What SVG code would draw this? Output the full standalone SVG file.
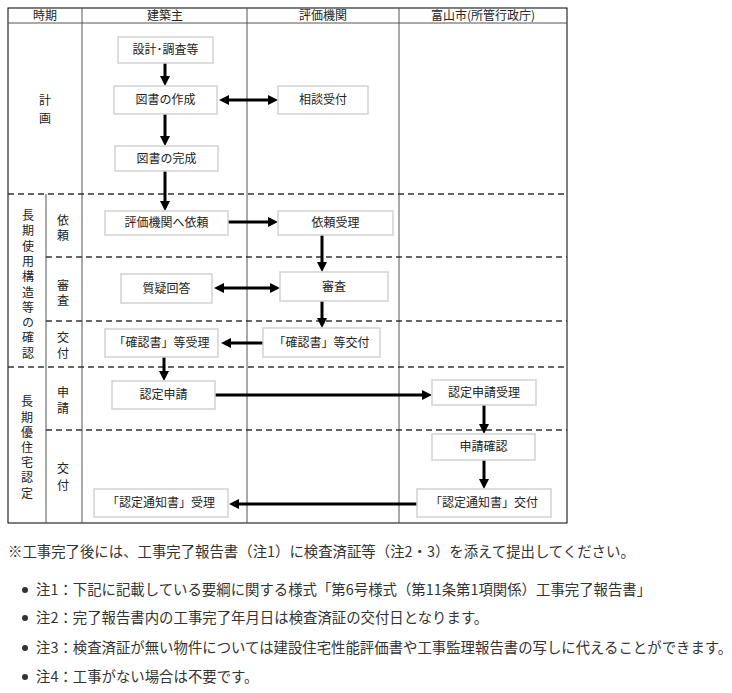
<svg xmlns="http://www.w3.org/2000/svg" width="732" height="693" viewBox="0 0 732 693">
<style>
  .t{font-family:"Noto Sans CJK JP","Noto Sans CJK SC",sans-serif;font-size:12px;fill:#222;text-anchor:middle}
  .v{font-family:"Noto Sans CJK JP","Noto Sans CJK SC",sans-serif;font-size:12px;fill:#222;text-anchor:middle;writing-mode:vertical-rl}
  .box{fill:#fff;stroke:#d2d2d2;stroke-width:1.5}
  .grid{stroke:#555;stroke-width:1;fill:none}
  .dash{stroke:#333;stroke-width:1.5;stroke-dasharray:6 4;fill:none}
  .arr{stroke:#000;stroke-width:3;fill:none}
  .note{font-family:"Noto Sans CJK JP","Noto Sans CJK SC",sans-serif;font-size:14.4px;fill:#333}
</style>
<defs>
  <marker id="ah" markerUnits="userSpaceOnUse" markerWidth="10" markerHeight="10" refX="2" refY="5" orient="auto-start-reverse" viewBox="0 0 10 10">
    <path d="M0,0 L10,5 L0,10 z" fill="#000"/>
  </marker>
</defs>
<rect width="732" height="693" fill="#fff"/>

<g id="table">
  <rect x="8" y="8" width="559" height="515" fill="none" stroke="#000" stroke-width="1"/>
  <line class="grid" x1="8" y1="23" x2="567" y2="23"/>
  <line class="grid" x1="82" y1="8" x2="82" y2="523"/>
  <line class="grid" x1="247" y1="8" x2="247" y2="523"/>
  <line class="grid" x1="399" y1="8" x2="399" y2="523"/>
  <line class="grid" x1="46" y1="194" x2="46" y2="523"/>
  <line class="dash" x1="8" y1="194" x2="567" y2="194" stroke="#666"/>
  <line class="dash" x1="46" y1="257" x2="567" y2="257"/>
  <line class="dash" x1="46" y1="321" x2="567" y2="321"/>
  <line class="dash" x1="8" y1="367" x2="567" y2="367"/>
  <line class="dash" x1="46" y1="430" x2="567" y2="430"/>
  <text class="t" x="45" y="20">時期</text>
  <text class="t" x="165" y="20">建築主</text>
  <text class="t" x="323" y="20">評価機関</text>
  <text class="t" x="483" y="20">富山市(所管行政庁)</text>
</g>

<g id="labels">
  <text class="v" x="45" y="112" letter-spacing="6">計画</text>
  <text class="v" x="28" y="286" letter-spacing="3.3">長期使用構造等の確認</text>
  <text class="v" x="63" y="229" letter-spacing="3">依頼</text>
  <text class="v" x="63" y="294" letter-spacing="3">審査</text>
  <text class="v" x="63" y="347" letter-spacing="4">交付</text>
  <text class="v" x="27" y="449" letter-spacing="3.2">長期優住宅認定</text>
  <text class="v" x="63" y="402" letter-spacing="4">申請</text>
  <text class="v" x="63" y="479" letter-spacing="5">交付</text>
</g>

<g id="connectors">
  <line class="arr" x1="165" y1="63" x2="165" y2="78" marker-end="url(#ah)"/>
  <line class="arr" x1="165" y1="114" x2="165" y2="138" marker-end="url(#ah)"/>
  <line class="arr" x1="165" y1="171" x2="165" y2="203" marker-end="url(#ah)"/>
  <line class="arr" x1="227" y1="100" x2="270" y2="100" marker-start="url(#ah)" marker-end="url(#ah)"/>
  <line class="arr" x1="228" y1="222" x2="270" y2="222" marker-end="url(#ah)"/>
  <line class="arr" x1="322" y1="235" x2="322" y2="264" marker-end="url(#ah)"/>
  <line class="arr" x1="222" y1="288" x2="272" y2="288" marker-start="url(#ah)" marker-end="url(#ah)"/>
  <line class="arr" x1="322" y1="301" x2="322" y2="320" marker-end="url(#ah)"/>
  <line class="arr" x1="263" y1="343" x2="229" y2="343" marker-end="url(#ah)"/>
  <line class="arr" x1="164" y1="357" x2="164" y2="373" marker-end="url(#ah)"/>
  <line class="arr" x1="215" y1="395" x2="424" y2="395" marker-end="url(#ah)"/>
  <line class="arr" x1="484" y1="405" x2="484" y2="426" marker-end="url(#ah)"/>
  <line class="arr" x1="484" y1="460" x2="484" y2="481" marker-end="url(#ah)"/>
  <line class="arr" x1="417" y1="504" x2="237" y2="504" marker-end="url(#ah)"/>
</g>

<g id="n1"><rect class="box" x="118" y="37" width="95" height="26"/><text class="t" x="165.5" y="54">設計･調査等</text></g>
<g id="n2"><rect class="box" x="114" y="86" width="103" height="28"/><text class="t" x="165.5" y="104">図書の作成</text></g>
<g id="n3"><rect class="box" x="278" y="86" width="90" height="28"/><text class="t" x="323" y="104">相談受付</text></g>
<g id="n4"><rect class="box" x="115" y="146" width="103" height="25"/><text class="t" x="166.5" y="162.5">図書の完成</text></g>
<g id="n5"><rect class="box" x="105" y="211" width="123" height="24"/><text class="t" x="166.5" y="227">評価機関へ依頼</text></g>
<g id="n6"><rect class="box" x="278" y="211" width="115" height="24"/><text class="t" x="335.5" y="227">依頼受理</text></g>
<g id="n7"><rect class="box" x="121" y="274" width="91" height="29"/><text class="t" x="166.5" y="292.5">質疑回答</text></g>
<g id="n8"><rect class="box" x="280" y="272" width="108" height="29"/><text class="t" x="334" y="290.5">審査</text></g>
<g id="n9"><rect class="box" x="105" y="329" width="113" height="28"/><text class="t" x="161.5" y="347">「確認書」等受理</text></g>
<g id="n10"><rect class="box" x="263" y="328" width="117" height="29"/><text class="t" x="321.5" y="346.5">「確認書」等交付</text></g>
<g id="n11"><rect class="box" x="112" y="381" width="103" height="28"/><text class="t" x="163.5" y="399">認定申請</text></g>
<g id="n12"><rect class="box" x="432" y="380" width="104" height="25"/><text class="t" x="484" y="396.5">認定申請受理</text></g>
<g id="n13"><rect class="box" x="432" y="434" width="103" height="26"/><text class="t" x="483.5" y="451">申請確認</text></g>
<g id="n14"><rect class="box" x="417" y="489" width="134" height="28"/><text class="t" x="484" y="507">「認定通知書」交付</text></g>
<g id="n15"><rect class="box" x="94" y="489" width="134" height="28"/><text class="t" x="161" y="507">「認定通知書」受理</text></g>

<g id="notes">
  <text class="note" x="8" y="557">※工事完了後には、工事完了報告書（注1）に検査済証等（注2・3）を添えて提出してください。</text>
  <circle cx="25" cy="590" r="3" fill="#333"/>
  <text class="note" x="36" y="595">注1：下記に記載している要綱に関する様式「第6号様式（第11条第1項関係）工事完了報告書」</text>
  <circle cx="25" cy="618" r="3" fill="#333"/>
  <text class="note" x="36" y="623">注2：完了報告書内の工事完了年月日は検査済証の交付日となります。</text>
  <circle cx="25" cy="648" r="3" fill="#333"/>
  <text class="note" x="36" y="653">注3：検査済証が無い物件については建設住宅性能評価書や工事監理報告書の写しに代えることができます。</text>
  <circle cx="25" cy="677" r="3" fill="#333"/>
  <text class="note" x="36" y="682">注4：工事がない場合は不要です。</text>
</g>
</svg>
